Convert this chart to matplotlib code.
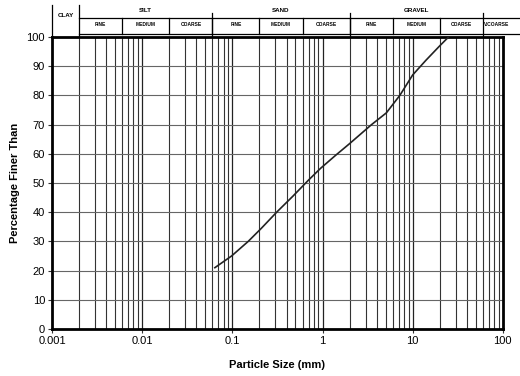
import numpy as np
import matplotlib.pyplot as plt
import matplotlib.transforms as mtransforms

plt.rcParams['font.family'] = ['Liberation Sans', 'DejaVu Sans']

# --- grading curve ---
size_mm = [0.064, 0.098, 0.15, 0.21, 0.31, 0.47, 0.70, 0.95, 1.4, 2.0, 3.5, 5.1, 7.2, 10, 14, 20, 25]
pct_finer = [21, 25, 30, 34.5, 40, 45.5, 51, 55, 59.5, 63.5, 70, 74, 80, 87, 92, 97, 100]

x_ticks = [0.001, 0.01, 0.1, 1, 10, 100]
x_tick_labels = ['0.001', '0.01', '0.1', '1', '10', '100']
y_ticks = list(range(0, 101, 10))

# soil classes (header above the chart)
main_bounds = [0.001, 0.002, 0.06, 2, 60]
main_names = ['CLAY', 'SILT', 'SAND', 'GRAVEL']
sub_bounds = [0.002, 0.006, 0.02, 0.06, 0.2, 0.6, 2, 6, 20, 60]
sub_names = ['FINE', 'MEDIUM', 'COARSE', 'FINE', 'MEDIUM', 'COARSE', 'FINE', 'MEDIUM', 'COARSE']

fig = plt.figure(figsize=(5.2, 3.76), dpi=100)
ax = fig.add_axes([0.1, 0.125, 0.867, 0.7766])

ax.set_xscale('log')
ax.set_xlim(0.001, 100)
ax.set_ylim(0, 100)

# grid: every 1..9 in each decade, every 10 %
for dec in [0.001, 0.01, 0.1, 1, 10]:
    for m in range(2, 10):
        ax.axvline(dec * m, color='#333333', lw=0.8, zorder=1)
    if dec > 0.001:
        ax.axvline(dec, color='#222222', lw=0.9, zorder=1)
for y in y_ticks[1:-1]:
    ax.axhline(y, color='#666666', lw=0.8, zorder=1)

ax.plot(size_mm, pct_finer, color='#222222', lw=1.2, zorder=3)

ax.set_xticks(x_ticks)
ax.set_xticklabels(x_tick_labels)
ax.xaxis.set_minor_locator(plt.NullLocator())
ax.set_yticks(y_ticks)
ax.tick_params(labelsize=8, length=3, width=0.8, color='#333333', pad=2)
for s in ax.spines.values():
    s.set_linewidth(2)
    s.set_color('black')

ax.set_xlabel('Particle Size (mm)', fontsize=8, fontweight='bold', labelpad=10)
ax.set_ylabel('Percentage Finer Than', fontsize=8, fontweight='bold', labelpad=5)

# --- header with soil classification ---
tr = mtransforms.blended_transform_factory(ax.transData, ax.transAxes)
ax_h = 292.0
def yf(py):
    # pixel row (from top of image) -> axes fraction
    return (329 - py) / ax_h

kw = dict(transform=tr, clip_on=False, color='black', lw=0.9)
# main verticals
for i, b in enumerate(main_bounds):
    top = 5 if i < 2 else 13
    ax.plot([b, b], [1.0, yf(top)], **kw)
# horizontal lines
ax.plot([0.002, 150], [yf(18), yf(18)], **kw)
ax.plot([0.002, 150], [yf(34), yf(34)], **kw)
# sub verticals
for b in sub_bounds[1:-1]:
    ax.plot([b, b], [yf(34), yf(18)], **kw)

# main labels
ax.text(np.sqrt(0.001 * 0.002), yf(16), main_names[0], transform=tr,
        ha='center', va='center', fontsize=4.5, fontweight='bold')
for i in range(1, 4):
    xc = np.sqrt(main_bounds[i] * main_bounds[i + 1])
    ax.text(xc, yf(11), main_names[i], transform=tr, ha='center', va='center',
            fontsize=4.5, fontweight='bold')
for i, name in enumerate(sub_names):
    xc = np.sqrt(sub_bounds[i] * sub_bounds[i + 1])
    ax.text(xc, yf(25), name, transform=tr, ha='center', va='center',
            fontsize=3.5, fontweight='bold')
ax.text(85, yf(25), 'V.COARSE', transform=tr, ha='center', va='center',
        fontsize=3.5, fontweight='bold')

fig.savefig('out.png', dpi=100)
